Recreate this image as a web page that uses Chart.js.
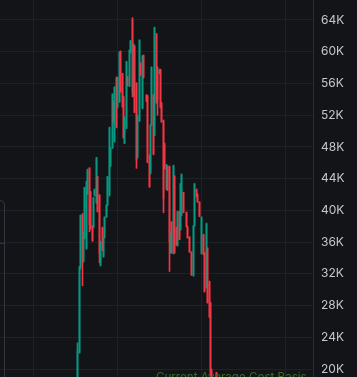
<!DOCTYPE html>
<html>
<head>
<meta charset="utf-8">
<script src="https://cdn.jsdelivr.net/npm/chart.js@4.4.0/dist/chart.umd.min.js"></script>
<style>
  html, body { margin: 0; padding: 0; background: #131418; overflow: hidden; }
  #wrap { position: relative; width: 357px; height: 377px; overflow: hidden; }
  #panel { position: absolute; left: -100px; top: 200px; width: 103px; height: 260px; border: 1px solid #33363e; border-radius: 5px; }
  #panel .sep { position: absolute; left: 0; right: 0; top: 42px; border-top: 1px solid #33363e; }
  #costLabel { position: absolute; left: 156px; top: 370px; font: 11.6px Inter, sans-serif; color: #3b6b26; white-space: nowrap; }
</style>
</head>
<body>
<div id="wrap">
  <canvas id="chart" width="357" height="377"></canvas>
  <div id="panel"><div class="sep"></div></div>
  <div id="costLabel">Current Average Cost Basis</div>
</div>
<script>
// candle data, day = offset from the first visible candle, prices in K
const days  = [0, 2, 3, 5, 6, 7, 9, 10, 12, 13, 15, 16, 17, 19, 20, 22, 23, 25, 26, 27,
               29, 30, 32, 33, 35, 36, 37, 39, 40, 42, 43, 45, 46, 47, 49, 50, 52, 53, 55, 56,
               57, 59, 60, 62, 63, 65, 66, 69, 70, 72, 73, 74, 76, 77, 79, 80, 82, 83, 84, 86,
               87, 89, 90, 92, 93, 94, 96, 97, 99, 100, 102, 103, 104, 106, 109, 110, 112, 114, 116, 117,
               119, 120, 122, 124, 126, 127, 129, 130, 132, 133, 134, 137, 139];
const open  = [18.6, 22.1, 32.9, 39.4, 33.6, 36.6, 35.2, 42.2, 45.3, 42.3, 38.0, 37.9, 41.9, 41.0, 44.2, 41.9, 33.1, 37.8, 34.2, 36.6,
               39.2, 40.7, 42.0, 45.7, 47.9, 53.7, 48.7, 56.7, 53.0, 53.7, 60.0, 57.2, 54.3, 48.5, 50.4, 56.8, 55.7, 60.0, 64.0, 54.5,
               60.7, 56.0, 46.7, 51.3, 58.4, 52.9, 59.5, 54.5, 54.4, 46.0, 44.7, 50.8, 54.5, 49.5, 62.2, 57.5, 57.3, 57.7, 53.5, 51.3,
               48.4, 42.7, 45.5, 45.5, 34.7, 38.5, 34.6, 44.3, 37.8, 35.6, 39.8, 37.6, 39.4, 42.2, 39.7, 37.9, 36.6, 34.7, 31.8, 38.1,
               42.6, 42.0, 41.0, 34.6, 36.9, 34.6, 30.3, 35.2, 31.0, 28.3, 19.8, 17.5, 19.5];
const high  = [23.3, 32.9, 39.4, 39.6, 37.3, 42.9, 43.7, 45.2, 45.4, 42.4, 38.1, 41.6, 42.7, 46.7, 44.3, 42.0, 36.1, 37.9, 36.6, 39.2,
               40.7, 44.3, 50.5, 47.9, 54.7, 53.8, 55.6, 56.8, 56.8, 60.0, 60.1, 57.3, 54.4, 51.8, 58.8, 56.9, 60.2, 61.4, 64.3, 61.0,
               60.8, 56.1, 52.0, 61.5, 58.6, 59.5, 59.6, 54.6, 54.5, 47.0, 50.8, 58.1, 54.6, 63.1, 62.3, 58.1, 57.8, 57.8, 53.6, 51.4,
               48.5, 45.8, 45.6, 45.6, 37.1, 38.6, 45.7, 44.4, 37.9, 39.9, 39.9, 43.4, 44.6, 42.3, 39.8, 38.0, 36.7, 34.8, 38.1, 43.4,
               42.7, 42.1, 41.1, 39.2, 37.0, 34.7, 38.4, 35.3, 31.1, 28.4, 20.0, 18.6, 19.6];
const low   = [17.5, 22.0, 32.6, 30.5, 33.5, 36.4, 35.1, 42.0, 37.3, 37.6, 36.1, 37.8, 41.8, 40.9, 39.8, 33.4, 33.0, 34.9, 34.1, 36.5,
               39.1, 40.6, 41.8, 45.5, 47.8, 51.1, 48.6, 50.4, 52.9, 53.6, 54.9, 53.0, 49.1, 48.4, 50.3, 55.7, 55.6, 59.8, 54.3, 54.4,
               52.3, 45.3, 46.6, 51.2, 57.0, 52.8, 56.7, 53.7, 46.0, 42.9, 44.6, 50.7, 47.0, 49.4, 53.5, 52.0, 57.2, 52.9, 51.1, 39.7,
               45.2, 42.6, 42.5, 32.3, 34.6, 34.6, 34.5, 34.6, 35.6, 35.5, 36.3, 37.5, 39.3, 39.7, 37.9, 36.5, 34.7, 31.8, 31.7, 38.0,
               41.7, 41.0, 39.2, 34.5, 34.4, 29.7, 30.2, 28.3, 26.5, 19.2, 17.8, 17.0, 18.2];
const close = [22.3, 32.9, 39.4, 33.5, 37.2, 42.9, 43.5, 45.0, 38.2, 38.0, 36.2, 41.6, 42.6, 46.6, 39.9, 34.5, 36.0, 35.0, 36.5, 39.1,
               40.6, 44.2, 50.4, 47.8, 54.6, 51.2, 55.5, 50.5, 56.7, 59.9, 55.0, 53.1, 49.2, 51.7, 58.7, 55.8, 60.2, 61.4, 55.0, 60.9,
               52.4, 46.3, 51.9, 61.4, 57.1, 59.4, 56.8, 53.8, 46.1, 43.0, 50.7, 58.0, 47.1, 63.0, 53.6, 54.0, 57.7, 53.0, 51.2, 41.5,
               45.3, 45.7, 42.6, 36.0, 37.0, 34.7, 45.6, 34.7, 35.7, 39.8, 36.4, 43.3, 44.5, 39.8, 38.0, 36.6, 34.8, 31.9, 38.0, 43.3,
               41.8, 41.1, 39.3, 39.1, 34.5, 29.8, 38.3, 28.4, 26.6, 19.6, 18.2, 18.4, 18.4];

const priceTicks = [20, 24, 28, 32, 36, 40, 44, 48, 52, 56, 60, 64];
const gridDays = [-2, 82, 166];

const upColor = '#089981';
const downColor = '#f23645';
const gridColor = '#1f2129';

const colors = days.map((d, i) => close[i] >= open[i] ? upColor : downColor);

const ctx = document.getElementById('chart').getContext('2d');

new Chart(ctx, {
    type: 'bar',
    data: {
        datasets: [
            {
                label: 'wick',
                data: days.map((d, i) => ({ x: d, y: [low[i], high[i]] })),
                backgroundColor: colors,
                barThickness: 1,
                grouped: false,
                clip: 0
            },
            {
                label: 'body',
                data: days.map((d, i) => ({ x: d, y: [open[i], close[i]] })),
                backgroundColor: colors,
                barThickness: 1,
                grouped: false,
                clip: 0
            }
        ]
    },
    options: {
        responsive: false,
        animation: false,
        layout: { padding: 0, autoPadding: false },
        plugins: {
            legend: { display: false },
            tooltip: { enabled: false }
        },
        scales: {
            x: {
                type: 'linear',
                min: -77.5,
                max: 235.5,
                offset: false,
                afterBuildTicks: s => { s.ticks = gridDays.map(v => ({ value: v })); },
                afterFit: s => { s.height = 0; s.paddingLeft = 0; s.paddingRight = 0; },
                ticks: { display: false },
                border: { display: false },
                grid: { color: gridColor, drawTicks: false }
            },
            y: {
                position: 'right',
                min: 19,
                max: 66.52,
                afterBuildTicks: s => { s.ticks = priceTicks.map(v => ({ value: v })); },
                afterFit: s => { s.width = 44; s.paddingTop = 0; s.paddingBottom = 0; },
                ticks: {
                    color: '#c5c7ce',
                    padding: 8,
                    font: { family: 'Inter', size: 12 },
                    callback: v => v + 'K'
                },
                border: { display: true, color: '#2a2c33' },
                grid: { color: gridColor, drawTicks: false }
            }
        }
    }
});
</script>
</body>
</html>
